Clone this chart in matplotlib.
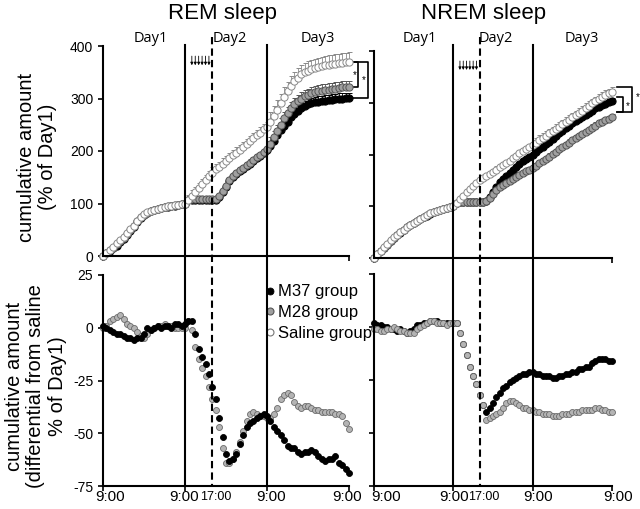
import numpy as np
import matplotlib
matplotlib.use("Agg")
import matplotlib.pyplot as plt
from matplotlib.lines import Line2D
from matplotlib.transforms import blended_transform_factory, ScaledTranslation

plt.rcParams['font.family'] = ['Liberation Sans', 'DejaVu Sans']
plt.rcParams['axes.unicode_minus'] = False

hours = np.arange(73)

# cumulative amount, REM sleep (% of Day1), hourly 0..72 h
rem_m37 = [0, 5, 10, 15, 20, 26, 32, 40, 48, 56, 65, 73, 79, 82, 85, 87, 89, 91, 93, 94, 95, 96, 98, 99, 100,
           106, 107, 107, 107, 107, 107, 107, 107, 107, 112, 122, 132, 142, 151, 156, 161, 166, 171, 176, 181, 186, 191, 196, 201,
           210, 220, 230, 240, 248, 256, 264, 271, 277, 282, 286, 289, 291, 293, 294, 295, 296, 297, 298, 299, 300, 300, 301, 301]
rem_m28 = [0, 5, 11, 16, 22, 28, 34, 41, 49, 57, 66, 74, 79, 82, 85, 88, 90, 92, 93, 95, 96, 97, 98, 99, 100,
           106, 108, 108, 108, 108, 108, 108, 108, 108, 114, 124, 134, 144, 153, 158, 163, 168, 173, 178, 183, 188, 193, 198, 203,
           214, 226, 238, 250, 262, 272, 281, 289, 295, 300, 304, 307, 310, 312, 314, 315, 316, 317, 318, 319, 320, 321, 322, 322]
rem_saline = [0, 6, 12, 18, 24, 30, 36, 43, 51, 58, 67, 75, 80, 83, 86, 88, 90, 92, 94, 95, 96, 97, 98, 99, 100,
              107, 115, 122, 130, 137, 145, 152, 159, 165, 170, 176, 181, 186, 192, 197, 202, 208, 213, 219, 224, 230, 235, 241, 246,
              256, 267, 279, 291, 303, 314, 324, 333, 340, 346, 350, 353, 356, 358, 360, 361, 363, 364, 365, 366, 367, 368, 369, 370]

# cumulative amount, NREM sleep (% of Day1)
nrem_m37 = [0, 7, 13, 20, 26, 33, 39, 44, 49, 54, 59, 63, 67, 71, 75, 79, 82, 85, 88, 90, 92, 94, 96, 98, 100,
            106, 108, 108, 108, 108, 108, 108, 108, 108, 110, 118, 128, 138, 146, 152, 158, 164, 170, 176, 182, 187, 192, 196, 200,
            205, 210, 215, 220, 225, 230, 236, 241, 246, 251, 256, 261, 265, 269, 273, 277, 281, 285, 289, 292, 295, 298, 301, 304]
nrem_m28 = [0, 6, 13, 20, 26, 33, 39, 44, 50, 55, 59, 63, 67, 71, 75, 79, 83, 86, 88, 90, 93, 95, 97, 99, 100,
            106, 108, 108, 108, 108, 108, 108, 108, 108, 110, 116, 124, 131, 137, 141, 145, 149, 153, 157, 161, 165, 168, 171, 174,
            178, 183, 187, 192, 196, 201, 205, 210, 214, 219, 223, 228, 232, 236, 240, 244, 248, 252, 256, 260, 263, 266, 269, 272]
nrem_saline = [0, 7, 14, 21, 27, 34, 40, 45, 50, 55, 60, 64, 68, 72, 76, 80, 83, 86, 88, 90, 92, 94, 96, 98, 100,
               107, 114, 120, 127, 133, 139, 145, 150, 154, 158, 162, 166, 171, 175, 179, 184, 188, 193, 197, 202, 206, 210, 215, 219,
               223, 228, 232, 236, 241, 245, 249, 254, 258, 263, 267, 272, 276, 281, 285, 290, 294, 299, 303, 307, 311, 315, 318, 321]

# upward error bar size per day (Day1, Day2, Day3)
rem_err = {'m37': [0, 5, 10], 'm28': [0, 6, 12], 'saline': [0, 10, 18]}
nrem_err = {'m37': [0, 4, 6], 'm28': [0, 4, 6], 'saline': [0, 6, 9]}

# differential from saline (% of Day1)
rem_diff_m37 = [1, 0, -1, -2, -3, -3, -4, -5, -5, -6, -5, -5, -3, 0, -1, 0, 1, 0, 1, 1,
                0, 2, 2, 1, 2, 3, 3, -3, -10, -14, -17, -22, -28, -34, -43, -52, -60, -63, -62, -60,
                -55, -51, -47, -45, -44, -43, -42, -41, -42, -44, -47, -49, -51, -53, -56, -57, -57, -59, -60, -59,
                -59, -58, -59, -61, -62, -63, -62, -62, -61, -64, -65, -67, -69]
rem_diff_m28 = [0, 1, 3, 4, 5, 6, 4, 2, 1, 0, -2, -4, -5, -3, -1, 0, 1, 1, 2, 1,
                1, 0, 0, 0, 0, 3, -1, -9, -15, -19, -23, -28, -34, -39, -47, -57, -64, -64, -62, -59,
                -54, -49, -44, -41, -40, -41, -42, -42, -43, -43, -41, -38, -34, -32, -31, -32, -35, -37, -38, -37,
                -37, -38, -39, -39, -40, -40, -40, -40, -41, -41, -42, -45, -48]
nrem_diff_m37 = [2, 1, 1, 0, 0, -1, -1, -2, -1, -2, -3, -2, -1, 1, 1, 2, 2, 3, 3, 3,
                 2, 2, 2, 2, 2, 2, -3, -8, -13, -19, -23, -27, -32, -37, -40, -38, -36, -33, -31, -29,
                 -28, -26, -25, -24, -23, -22, -22, -21, -21, -22, -22, -23, -23, -23, -24, -24, -23, -23, -22, -22,
                 -21, -21, -20, -20, -19, -19, -17, -16, -15, -15, -15, -16, -16]
nrem_diff_m28 = [-1, -1, -2, -2, -1, -1, 0, -1, -2, -2, -3, -3, -3, -1, 0, 1, 2, 3, 3, 2,
                 2, 2, 1, 2, 2, 2, -3, -8, -13, -19, -23, -27, -32, -37, -44, -43, -42, -41, -40, -38,
                 -36, -35, -35, -36, -37, -38, -38, -39, -39, -40, -40, -41, -41, -41, -42, -42, -42, -41, -41, -41,
                 -40, -40, -40, -39, -39, -39, -39, -38, -38, -39, -39, -40, -40]

injection_hours = [26, 27, 28, 29, 30, 31]
day_names = ['Day1', 'Day2', 'Day3']
time_ticks = [0, 24, 32, 48, 72]
time_labels = ['9:00', '9:00', '17:00', '9:00', '9:00']

styles = {
    'm37': dict(mfc='black', mec='black', ecolor='black'),
    'm28': dict(mfc='#a0a0a0', mec='#555555', ecolor='#555555'),
    'saline': dict(mfc='white', mec='#8a8a8a', ecolor='#8a8a8a'),
}

fig = plt.figure(figsize=(6.4, 5.09), dpi=100)
W, H = 640., 509.

ax_tl = fig.add_axes([103 / W, 1 - 256 / H, 246 / W, 210 / H])
ax_tr = fig.add_axes([374 / W, 1 - 258 / H, 238 / W, 207 / H])
ax_bl = fig.add_axes([103 / W, 1 - 486 / H, 246 / W, 211 / H])
ax_br = fig.add_axes([374 / W, 1 - 486 / H, 238 / W, 212 / H])

for ax in [ax_tl, ax_tr, ax_bl, ax_br]:
    ax.spines['top'].set_visible(False)
    ax.spines['right'].set_visible(False)
    ax.spines['left'].set_linewidth(1.5)
    ax.spines['bottom'].set_linewidth(1.5)
    ax.tick_params(direction='out', length=3.5, width=1.2)
    ax.set_xlim(0, 72)


def cum_panel(ax, series, errs):
    for key in ['m37', 'm28', 'saline']:
        st = styles[key]
        e = np.repeat(errs[key], [25, 24, 24])
        ax.errorbar(hours, series[key], yerr=[np.zeros(73), e], fmt='o', ms=5.2, mew=0.7,
                    mfc=st['mfc'], mec=st['mec'], ecolor=st['ecolor'], elinewidth=0.6,
                    capsize=1.8, capthick=0.6, clip_on=False)
    ax.set_ylim(0, 400)
    ax.set_yticks([0, 100, 200, 300, 400])
    ax.set_xticks([0, 24, 48, 72])
    ax.set_xticklabels([])
    for h in injection_hours:
        ax.annotate('', xy=(h, 358), xytext=(h, 386),
                    arrowprops=dict(arrowstyle='-|>', lw=0.6, color='black', mutation_scale=4))


cum_panel(ax_tl, {'m37': rem_m37, 'm28': rem_m28, 'saline': rem_saline}, rem_err)
cum_panel(ax_tr, {'m37': nrem_m37, 'm28': nrem_m28, 'saline': nrem_saline}, nrem_err)
ax_tl.set_yticklabels(['0', '100', '200', '300', '400'], fontsize=10)
ax_tr.set_yticklabels([])


def diff_panel(ax, m37, m28, order, shifts):
    for key in order:
        vals = m37 if key == 'm37' else m28
        if key == 'm37':
            ax.plot(hours, vals, 'o', ms=4.3, mew=0.6, mfc='black', mec='black', clip_on=False)
        else:
            ax.plot(hours, vals, 'o', ms=4.3, mew=0.6, mfc='#b4b4b4', mec='#6a6a6a', clip_on=False)
    ax.set_ylim(-75, 25)
    ax.set_yticks([-75, -50, -25, 0, 25])
    ax.set_xticks(time_ticks)
    ax.set_xticklabels([])
    ax.xaxis.get_major_ticks()[2].tick1line.set_visible(False)
    # time labels placed by hand so they can sit a little off their ticks, as in the original
    base = blended_transform_factory(ax.transData, ax.transAxes)
    for t, lab, dx in zip(time_ticks, time_labels, shifts):
        tr = base + ScaledTranslation(dx / 100., -11 / 100., fig.dpi_scale_trans)
        ax.text(t, 0, lab, transform=tr, ha='center', va='center',
                fontsize=9 if lab == '17:00' else 11)


diff_panel(ax_bl, rem_diff_m37, rem_diff_m28, ['m28', 'm37'], [7, -1, 3, 4, -2])
diff_panel(ax_br, nrem_diff_m37, nrem_diff_m28, ['m37', 'm28'], [12, 1, 4, 5, 6])
ax_bl.set_yticklabels(['-75', '-50', '-25', '0', '25'], fontsize=10)
ax_br.set_yticklabels([])

# day boundary lines running through both panels
for ax in [ax_tl, ax_tr]:
    tr = blended_transform_factory(ax.transData, fig.transFigure)
    for x in [24, 48]:
        fig.add_artist(Line2D([x, x], [1 - 45 / H, 1 - 486 / H], transform=tr, color='black', lw=1.5))
    fig.add_artist(Line2D([32, 32], [1 - 37 / H, 1 - 486 / H], transform=tr, color='black', lw=1.5,
                          ls=(0, (3.5, 2))))
    for name, xh in zip(day_names, [14, 37, 63]):
        fig.text(xh, 1 - 38 / H, name, transform=tr, ha='center', va='center', fontsize=10.5,
                 family='Open Sans')

# significance brackets
def bracket(ax, x0, x1, y_top, y_bot, lw=1.2):
    ax.plot([x0, x1, x1, x0], [y_top, y_top, y_bot, y_bot], color='black', lw=lw, clip_on=False)


bracket(ax_tl, 71.3, 74.6, rem_saline[-1], rem_m28[-1])
bracket(ax_tl, 71.3, 77.5, rem_saline[-1], rem_m37[-1])
ax_tl.text(73.6, 345, '*', fontsize=7, ha='center', va='center')
ax_tl.text(76.2, 335, '*', fontsize=7, ha='center', va='center')

bracket(ax_tr, 73.4, 78.2, nrem_saline[-1] + 10, nrem_m28[-1] + 10)
bracket(ax_tr, 73.4, 75.2, nrem_m37[-1] + 8, nrem_m28[-1] + 10)
ax_tr.text(76.7, 294, '*', fontsize=7, ha='center', va='center')
ax_tr.text(79.8, 310, '*', fontsize=7, ha='center', va='center')

# legend
handles = [
    Line2D([], [], ls='none', marker='o', ms=5, mfc='black', mec='black', mew=0.6),
    Line2D([], [], ls='none', marker='o', ms=5, mfc='#a0a0a0', mec='#555555', mew=0.8),
    Line2D([], [], ls='none', marker='o', ms=5, mfc='white', mec='#777777', mew=0.8),
]
ax_bl.legend(handles, ['M37 group', 'M28 group', 'Saline group'], loc='upper left',
             bbox_to_anchor=(0.66, 0.955), frameon=False, fontsize=12, handlelength=0.6,
             handletextpad=0.15, labelspacing=0.35, borderpad=0, borderaxespad=0)

# titles and axis labels
fig.text(222 / W, 1 - 14 / H, 'REM sleep', ha='center', va='center', fontsize=16)
fig.text(484 / W, 1 - 14 / H, 'NREM sleep', ha='center', va='center', fontsize=16)
fig.text(37 / W, 1 - 157 / H, 'cumulative amount\n(% of Day1)', rotation=90, ha='center',
         va='center', fontsize=14.5, linespacing=1.15, multialignment='center')
fig.text(36 / W, 1 - 386 / H, 'cumulative amount\n(differential from saline\n% of Day1)', rotation=90,
         ha='center', va='center', fontsize=14.5, linespacing=1.15, multialignment='center')

plt.savefig('out.png', dpi=100)
